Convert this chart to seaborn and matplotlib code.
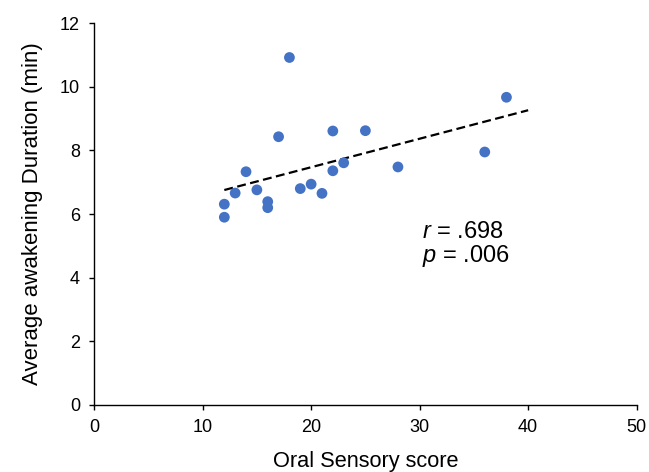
import matplotlib
matplotlib.use('Agg')
import matplotlib.pyplot as plt
import numpy as np
import pandas as pd
import seaborn as sns

# data
oral_score = [12, 12, 13, 14, 15, 16, 16, 17, 18, 19, 20, 21, 22, 22, 23, 25, 28, 36, 38]
awake_min = [6.31, 5.90, 6.66, 7.33, 6.76, 6.39, 6.20, 8.43, 10.92, 6.80, 6.94, 6.65,
             8.61, 7.36, 7.61, 8.62, 7.48, 7.95, 9.67]
x_ticks = [0, 10, 20, 30, 40, 50]
y_ticks = [0, 2, 4, 6, 8, 10, 12]

df = pd.DataFrame({'score': oral_score, 'duration': awake_min})

sns.set_style('ticks')
plt.rcParams['font.family'] = ['Liberation Sans', 'DejaVu Sans']
plt.rcParams['mathtext.fontset'] = 'custom'
plt.rcParams['mathtext.it'] = 'Liberation Sans:italic'
plt.rcParams['mathtext.rm'] = 'Liberation Sans'
plt.rcParams['text.color'] = 'black'
plt.rcParams['axes.labelcolor'] = 'black'
plt.rcParams['xtick.color'] = 'black'
plt.rcParams['ytick.color'] = 'black'

fig = plt.figure(figsize=(6.49, 4.72), dpi=100)
ax = fig.add_axes([0.145, 0.142, 0.836, 0.809])

sns.scatterplot(data=df, x='score', y='duration', ax=ax, color='#4472C4',
                s=60, edgecolor='none', zorder=3)

# linear trendline, extended forward to 40 like the reference
slope, intercept = np.polyfit(df['score'], df['duration'], 1)
xs = np.array([12, 40])
ax.plot(xs, slope * xs + intercept, color='black', linestyle=(0, (4, 2)), linewidth=1.6, zorder=2)

ax.text(30.2, 5.45, r'$r$ = .698', fontsize=17, va='center')
ax.text(30.2, 4.68, r'$p$ = .006', fontsize=17, va='center')

ax.set_xlim(0, 50)
ax.set_ylim(0, 12)
ax.set_xticks(x_ticks)
ax.set_yticks(y_ticks)
ax.tick_params(labelsize=13, length=3.6, width=1, color='black', pad=6.5)
for s in ['left', 'bottom']:
    ax.spines[s].set_color('black')
    ax.spines[s].set_linewidth(1)
sns.despine(ax=ax)

ax.set_xlabel('Oral Sensory score', fontsize=15.7, labelpad=11)
ax.set_ylabel('Average awakening Duration (min)', fontsize=16, labelpad=12)

fig.savefig('out.png', dpi=100)
